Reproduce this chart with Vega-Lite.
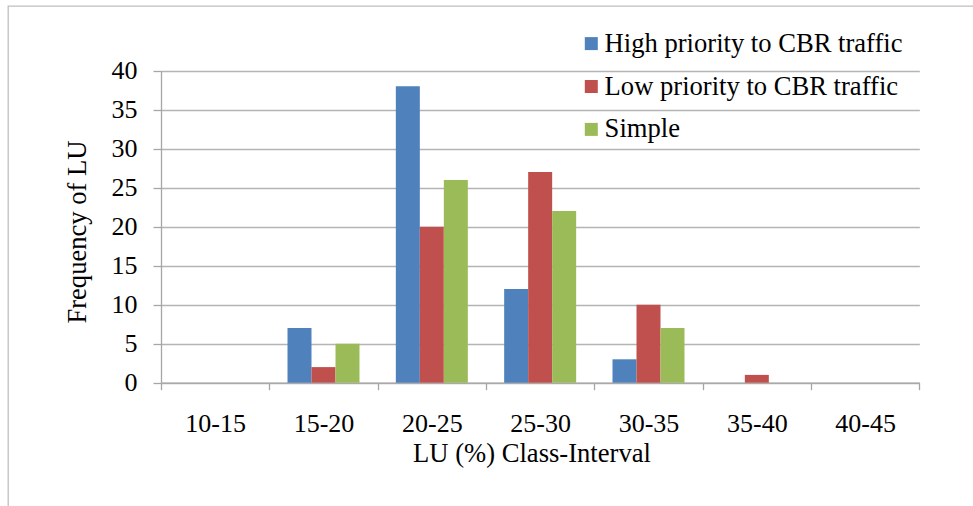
{
  "$schema": "https://vega.github.io/schema/vega-lite/v6.json",
  "width": 1000,
  "height": 600,
  "autosize": {"type": "none"},
  "padding": {"left": 8, "top": 6, "right": 0, "bottom": 0},
  "background": "white",
  "config": {
    "view": {"stroke": "#bfbfbf", "strokeWidth": 1.3, "fill": "white"},
    "font": "Liberation Serif",
    "axis": {
      "labelFont": "Liberation Serif",
      "titleFont": "Liberation Serif",
      "labelColor": "black",
      "titleColor": "black",
      "titleFontWeight": "normal",
      "domainColor": "#a6a6a6",
      "tickColor": "#a6a6a6",
      "gridColor": "#b4b4b4",
      "domainWidth": 1.3,
      "tickWidth": 1.3,
      "gridWidth": 1.3
    },
    "legend": {"labelFont": "Liberation Serif", "labelColor": "black"}
  },
  "data": {
    "values": [
      {"interval": "10-15", "scheme": "High priority to CBR traffic", "frequency": 0},
      {"interval": "10-15", "scheme": "Low priority to CBR traffic", "frequency": 0},
      {"interval": "10-15", "scheme": "Simple", "frequency": 0},
      {"interval": "15-20", "scheme": "High priority to CBR traffic", "frequency": 7},
      {"interval": "15-20", "scheme": "Low priority to CBR traffic", "frequency": 2},
      {"interval": "15-20", "scheme": "Simple", "frequency": 5},
      {"interval": "20-25", "scheme": "High priority to CBR traffic", "frequency": 38},
      {"interval": "20-25", "scheme": "Low priority to CBR traffic", "frequency": 20},
      {"interval": "20-25", "scheme": "Simple", "frequency": 26},
      {"interval": "25-30", "scheme": "High priority to CBR traffic", "frequency": 12},
      {"interval": "25-30", "scheme": "Low priority to CBR traffic", "frequency": 27},
      {"interval": "25-30", "scheme": "Simple", "frequency": 22},
      {"interval": "30-35", "scheme": "High priority to CBR traffic", "frequency": 3},
      {"interval": "30-35", "scheme": "Low priority to CBR traffic", "frequency": 10},
      {"interval": "30-35", "scheme": "Simple", "frequency": 7},
      {"interval": "35-40", "scheme": "High priority to CBR traffic", "frequency": 0},
      {"interval": "35-40", "scheme": "Low priority to CBR traffic", "frequency": 1},
      {"interval": "35-40", "scheme": "Simple", "frequency": 0},
      {"interval": "40-45", "scheme": "High priority to CBR traffic", "frequency": 0},
      {"interval": "40-45", "scheme": "Low priority to CBR traffic", "frequency": 0},
      {"interval": "40-45", "scheme": "Simple", "frequency": 0}
    ]
  },
  "mark": {"type": "bar"},
  "encoding": {
    "x": {
      "field": "interval",
      "type": "nominal",
      "sort": null,
      "scale": {"range": [153, 911.33], "paddingInner": 0, "paddingOuter": 0},
      "axis": {
        "orient": "bottom",
        "offset": -223.3,
        "grid": false,
        "tickBand": "extent",
        "tickSize": 7,
        "labelAngle": 0,
        "labelFontSize": 26,
        "labelBaseline": "alphabetic",
        "labelPadding": 42,
        "title": "LU (%) Class-Interval",
        "titleFontSize": 26.6,
        "titleX": 523.5,
        "titleY": 79,
        "titleAlign": "center",
        "titleBaseline": "alphabetic"
      }
    },
    "xOffset": {
      "field": "scheme",
      "type": "nominal",
      "sort": null,
      "scale": {"paddingInner": 0, "paddingOuter": 0.757}
    },
    "y": {
      "field": "frequency",
      "type": "quantitative",
      "scale": {"domain": [0, 40], "range": [376.7, 64.7], "nice": false, "zero": true},
      "axis": {
        "orient": "left",
        "offset": -153,
        "values": [0, 5, 10, 15, 20, 25, 30, 35, 40],
        "tickSize": 8,
        "labelPadding": 16,
        "labelFontSize": 26,
        "title": "Frequency of LU",
        "titleFontSize": 26.6,
        "titleAngle": 270,
        "titleX": -75.5,
        "titleY": 225.5,
        "titleAlign": "center",
        "titleBaseline": "alphabetic"
      }
    },
    "color": {
      "field": "scheme",
      "type": "nominal",
      "scale": {
        "domain": ["High priority to CBR traffic", "Low priority to CBR traffic", "Simple"],
        "range": ["#4F81BD", "#C0504D", "#9BBB59"]
      },
      "legend": {
        "orient": "none",
        "legendX": 570,
        "legendY": 24.3,
        "title": null,
        "padding": 0,
        "symbolType": "square",
        "symbolSize": 169,
        "symbolStrokeWidth": 0,
        "labelFont": "Liberation Serif",
        "labelFontSize": 26.6,
        "labelColor": "black",
        "labelOffset": 0,
        "labelLimit": 400,
        "rowPadding": 15.9
      }
    }
  }
}
